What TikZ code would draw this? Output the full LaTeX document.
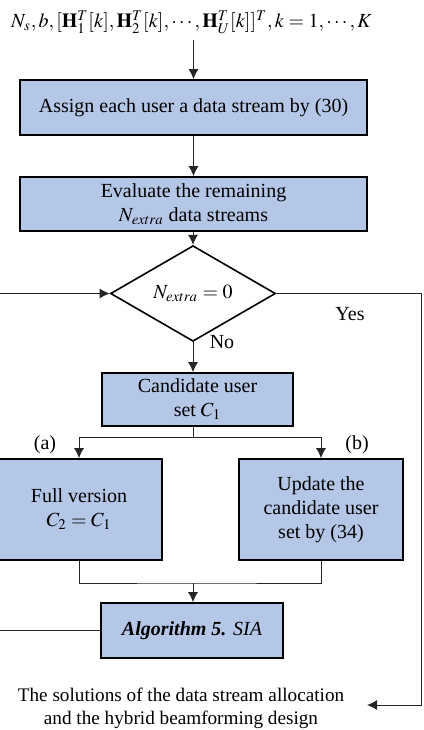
\documentclass[tikz,border=0pt]{standalone}
\usepackage{mathptmx}
\usepackage{fontspec}
\setmainfont{Liberation Serif}
\usetikzlibrary{arrows.meta,shapes.geometric,positioning}

\definecolor{boxblue}{RGB}{180,199,231}

\begin{document}
\begin{tikzpicture}[x=0.5pt,y=-0.5pt,
  font=\fontsize{10}{12}\selectfont,
  box/.style={draw=black, line width=0.8pt, fill=boxblue, align=center, inner sep=1pt},
  decision/.style={draw=black, line width=0.8pt, diamond, inner sep=0pt, minimum width=82.5pt, minimum height=26.5pt},
  line/.style={draw=black!85, line width=0.5pt},
  arr/.style={line, -{Latex[length=5pt,width=5pt]}}]
\useasboundingbox (0,0) rectangle (424,730);
\clip (0,0) rectangle (424,730);

% input and boxes
\node (inp) at (191.5,22) {$N_s, b, [\mathbf{H}_1^T[k], \mathbf{H}_2^T[k], \cdots, \mathbf{H}_U^T[k]]^T, k = 1, \cdots, K$};
\node[box, minimum width=173.5pt, minimum height=27.5pt] (assign) at (193.5,107.5) {Assign each user a data stream by (30)};
\node[box, minimum width=173.5pt, minimum height=27pt] (eval) at (193.5,204) {Evaluate the remaining\\$N_{extra}$ data streams};
\node[decision] (dec) at (193,293.5) {$N_{extra} = 0$};
\node[box, minimum width=95.5pt, minimum height=26.5pt] (cand) at (197.5,399.5) {Candidate user\\set $C_1$};
\node[box, minimum width=83pt, minimum height=50.5pt] (full) at (79,509.5) {Full version\\$C_2 = C_1$};
\node[box, minimum width=82pt, minimum height=50.5pt] (upd) at (321,509.5) {Update the\\candidate user\\set by (34)};
\node[box, minimum width=91pt, minimum height=27.5pt] (sia) at (192,630.5) {\textbf{\textit{Algorithm 5.}} \textit{SIA}};
\node[align=center, font=\fontsize{9.6}{11.5}\selectfont] (out) at (181,708) {The solutions of the data stream allocation\\and the hybrid beamforming design};

% labels
\node (yes) at (350,314) {Yes};
\node (no) at (222,342) {No};
\node (la) at (45,445) {(a)};
\node (lb) at (357,445) {(b)};

\coordinate (split) at (193,437);
\coordinate (merge) at (193,583);
\coordinate (corner) at (421,705);
\coordinate (outin) at (367,705);

% connectors
\draw[arr] (assign.north |- inp.south) -- (assign.north);
\draw[arr] (assign) -- (eval);
\draw[arr] (eval.south -| dec.north) -- (dec.north);
\draw[arr] (dec.south) -- (dec.south |- cand.north);
\draw[line] (split |- cand.south) -- (split);
\draw[arr] (split) -| (full.north);
\draw[arr] (split) -| (upd.north);
\draw[line] (full.south) |- (merge) -| (upd.south);
\draw[arr] (merge) -- (merge |- sia.north);
\draw[arr] (sia.west) -- ++(-140,0) |- (dec.west);
\draw[arr] (dec.east) -| (corner) -- (outin);
\end{tikzpicture}
\end{document}
